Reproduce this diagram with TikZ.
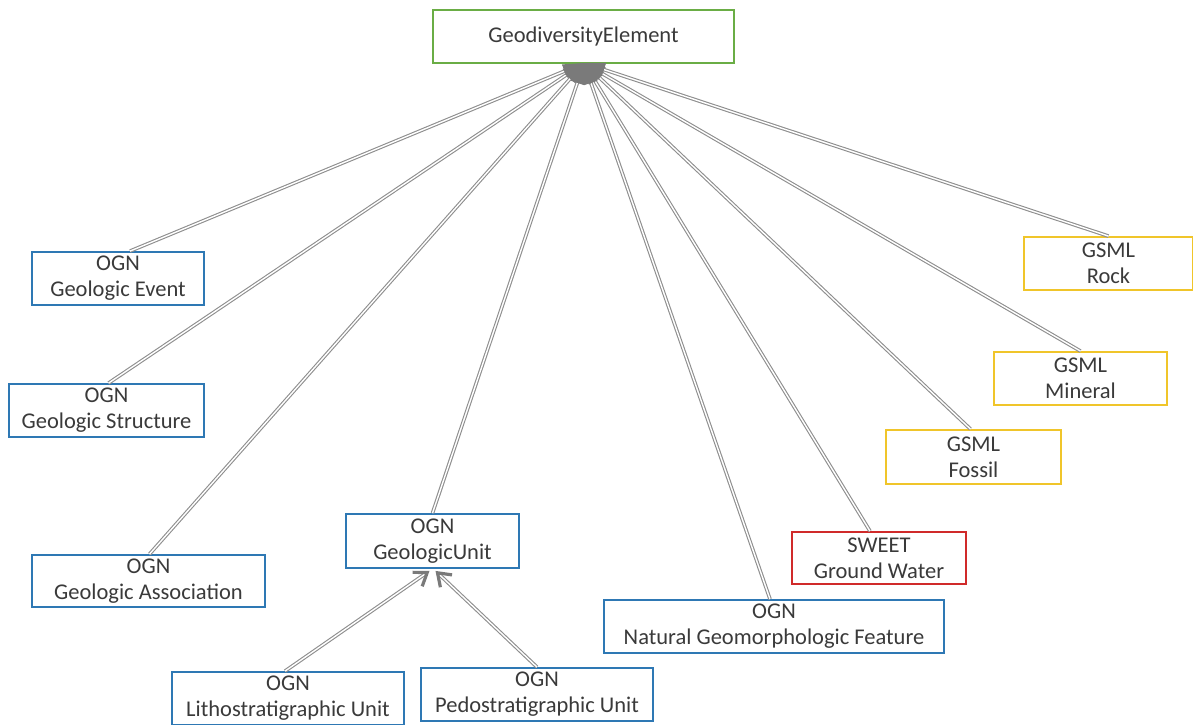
\documentclass[tikz,border=0pt]{standalone}
\usepackage{fontspec}
\setmainfont{Carlito}
\usetikzlibrary{arrows.meta,calc}

\definecolor{ogn}{HTML}{2E78B4}
\definecolor{gsml}{HTML}{F0C52A}
\definecolor{sweet}{HTML}{D02A2A}
\definecolor{root}{HTML}{6AAD45}
\definecolor{link}{HTML}{8E8E8E}
\definecolor{tip}{HTML}{7A7A7A}
\definecolor{txt}{HTML}{3A3A3A}

\tikzset{
  box/.style={draw, line width=1.8pt, fill=white, inner sep=0pt, align=center,
    text=txt, font=\fontsize{22.5}{26}\selectfont},
  ognbox/.style={box, draw=ogn},
  gsmlbox/.style={box, draw=gsml},
  sweetbox/.style={box, draw=sweet},
  rootbox/.style={box, draw=root},
  isa/.style={draw=link, line width=1.1pt, double=white, double distance=1.4pt,
    -{Triangle[length=21pt,width=14pt,fill=tip,color=tip]}},
  isasmall/.style={draw=link, line width=1.1pt, double=white, double distance=1.4pt,
    -{Straight Barb[length=12pt,width=17pt,line width=3.2pt,color=tip]}}
}

\begin{document}
\begin{tikzpicture}[x=1pt,y=-1pt]
  \useasboundingbox (0,0) rectangle (1193,724);

  % parent class
  \node[rootbox, minimum width=301, minimum height=53] (root) at (583.5,36.5) {GeodiversityElement};
  \coordinate (hub) at (584,63);

  % OGN classes
  \node[ognbox, minimum width=172, minimum height=53] (event)  at (118,278.5)   {OGN\\Geologic Event};
  \node[ognbox, minimum width=195, minimum height=53] (struct) at (106.5,410.5) {OGN\\Geologic Structure};
  \node[ognbox, minimum width=233, minimum height=52] (assoc)  at (148.5,581)   {OGN\\Geologic Association};
  \node[ognbox, minimum width=173, minimum height=54] (unit)   at (432.5,541)   {OGN\\GeologicUnit};
  \node[ognbox, minimum width=232, minimum height=53] (litho)  at (288,698.5)   {OGN\\Lithostratigraphic Unit};
  \node[ognbox, minimum width=232, minimum height=53] (pedo)   at (537,694.5)   {OGN\\Pedostratigraphic Unit};
  \node[ognbox, minimum width=340, minimum height=53] (geomorph) at (774,626.5) {OGN\\Natural Geomorphologic\ Feature};

  % SWEET class
  \node[sweetbox, minimum width=174, minimum height=52] (water) at (879,558) {SWEET\\Ground Water};

  % GSML classes
  \node[gsmlbox, minimum width=175, minimum height=54] (fossil)  at (973.5,457)   {GSML\\Fossil};
  \node[gsmlbox, minimum width=173, minimum height=53] (mineral) at (1080.5,378.5) {GSML\\Mineral};
  \node[gsmlbox, minimum width=169, minimum height=53] (rock)    at (1108.5,263.5) {GSML\\Rock};

  % subclass links to GeodiversityElement
  \draw[isa] ([xshift=12pt]event.north) -- (hub);
  \draw[isa] ([xshift=2pt]struct.north) -- (hub);
  \draw[isa] ([xshift=1pt]assoc.north) -- (hub);
  \draw[isa] (unit.north) -- (hub);
  \draw[isa] ([xshift=-4pt]geomorph.north) -- (hub);
  \draw[isa] ([xshift=-9pt]water.north) -- (hub);
  \draw[isa] ([xshift=-3pt]fossil.north) -- (hub);
  \draw[isa] (mineral.north) -- (hub);
  \draw[isa] (rock.north) -- (hub);

  % subclass links to GeologicUnit
  \draw[isasmall] ([xshift=-3pt]litho.north) -- ([xshift=-3pt,yshift=-2pt]unit.south);
  \draw[isasmall] (pedo.north) -- ([xshift=3pt,yshift=-2pt]unit.south);
\end{tikzpicture}
\end{document}
